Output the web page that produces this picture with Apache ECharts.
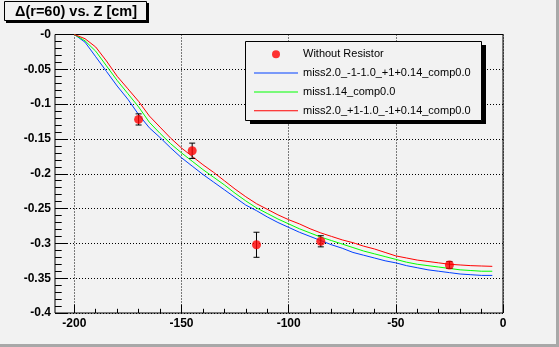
<!DOCTYPE html>
<html>
<head>
<meta charset="utf-8">
<script src="https://cdn.jsdelivr.net/npm/echarts@6/dist/echarts.min.js"></script>
<style>
html,body{margin:0;padding:0;background:#f2f2f2;}
#chart{width:559px;height:347px;}
</style>
</head>
<body>
<div id="chart"></div>
<script>
// ---- data ----
const titleText = 'Δ(r=60) vs. Z [cm]';
const seriesNames = ['Without Resistor', 'miss2.0_-1-1.0_+1+0.14_comp0.0', 'miss1.14_comp0.0', 'miss2.0_+1-1.0_-1+0.14_comp0.0'];

const measZ   = [-170, -145, -115, -85, -25];
const measVal = [-0.122, -0.167, -0.302, -0.297, -0.331];
const measErr = [0.008, 0.011, 0.018, 0.008, 0.005];

const curveZ = [-200,-195,-190,-185,-180,-175,-170,-165,-160,-155,-150,-145,-140,-135,-130,-125,-120,-115,-110,-105,-100,-95,-90,-85,-80,-75,-70,-65,-60,-55,-50,-45,-40,-35,-30,-25,-20,-15,-10,-5];
const blueVals  = [0,-0.011,-0.032,-0.053,-0.074,-0.093,-0.115,-0.134,-0.148,-0.163,-0.177,-0.189,-0.201,-0.212,-0.223,-0.234,-0.245,-0.253,-0.262,-0.270,-0.277,-0.284,-0.290,-0.296,-0.302,-0.307,-0.313,-0.317,-0.321,-0.325,-0.328,-0.332,-0.335,-0.338,-0.340,-0.342,-0.344,-0.345,-0.346,-0.346];
const greenVals = [0,-0.009,-0.024,-0.045,-0.066,-0.085,-0.104,-0.126,-0.142,-0.157,-0.170,-0.182,-0.194,-0.205,-0.216,-0.228,-0.239,-0.249,-0.257,-0.265,-0.272,-0.279,-0.285,-0.291,-0.296,-0.301,-0.306,-0.311,-0.315,-0.319,-0.323,-0.327,-0.330,-0.332,-0.334,-0.336,-0.338,-0.339,-0.340,-0.340];
const redVals   = [0,-0.006,-0.018,-0.038,-0.060,-0.078,-0.096,-0.117,-0.133,-0.149,-0.163,-0.175,-0.187,-0.198,-0.210,-0.222,-0.233,-0.243,-0.251,-0.259,-0.266,-0.272,-0.279,-0.285,-0.290,-0.295,-0.299,-0.304,-0.308,-0.313,-0.318,-0.321,-0.324,-0.326,-0.328,-0.330,-0.331,-0.332,-0.3325,-0.333];

const xMajorTicks = [-200, -150, -100, -50, 0];
const xMinorTicks = [-200,-190,-180,-170,-160,-150,-140,-130,-120,-110,-100,-90,-80,-70,-60,-50,-40,-30,-20,-10,0];

// ---- chart ----
const zip = (xs, ys) => xs.map((x, i) => [x, ys[i]]);
const FONT = 'Liberation Sans';
const TICK = '#000';
const chart = echarts.init(document.getElementById('chart'), null, {renderer: 'canvas'});
const linePath = 'path://M0,0L44,0L44,1L0,1Z';

const option = {
  backgroundColor: '#f2f2f2',
  animation: false,
  grid: {left: 55, top: 34.5, width: 448, height: 278.5, show: true, borderColor: '#000', borderWidth: 1, backgroundColor: 'transparent'},
  xAxis: [{
    type: 'value', min: -209, max: 0, interval: 50,
    axisLine: {show: false, onZero: false},
    axisTick: {show: true, inside: true, length: 8.5, customValues: xMajorTicks, lineStyle: {color: TICK, width: 1}},
    axisLabel: {customValues: xMajorTicks, color: '#000', fontFamily: FONT, fontWeight: 'bold', fontSize: 12, margin: 5,
      formatter: v => String(Math.round(v))},
    splitLine: {show: true, lineStyle: {color: '#000', type: [1, 2], width: 1}}
  }, {
    type: 'value', min: -209, max: 0, position: 'bottom',
    axisLine: {show: false, onZero: false},
    axisTick: {show: true, inside: true, length: 4.2, customValues: xMinorTicks, lineStyle: {color: TICK, width: 1}},
    axisLabel: {show: false},
    splitLine: {show: false}
  }],
  yAxis: {
    type: 'value', min: -0.4, max: 0, interval: 0.05, position: 'left',
    axisLine: {show: false, onZero: false},
    axisTick: {show: true, inside: true, length: 13, lineStyle: {color: TICK, width: 1}},
    minorTick: {show: true, splitNumber: 5, length: 6.7, lineStyle: {color: TICK, width: 1}},
    axisLabel: {color: '#000', fontFamily: FONT, fontWeight: 'bold', fontSize: 12, margin: 4,
      formatter: v => (Math.abs(v) < 1e-9 ? '-0' : String(+v.toFixed(2)))},
    splitLine: {show: true, lineStyle: {color: '#000', type: [1, 2], width: 1}}
  },
  legend: {
    orient: 'vertical', left: 254, top: 48.3, itemWidth: 44, itemHeight: 8, itemGap: 6.8, padding: 0, z: 20,
    textStyle: {fontFamily: FONT, fontSize: 11, color: '#000', lineHeight: 12},
    data: [
      {name: seriesNames[0], icon: 'circle'},
      {name: seriesNames[1], icon: linePath},
      {name: seriesNames[2], icon: linePath},
      {name: seriesNames[3], icon: linePath}
    ]
  },
  graphic: [
    {type: 'rect', shape: {x: 0, y: 344, width: 559, height: 3}, style: {fill: '#a8a8a8'}, silent: true},
    {type: 'rect', shape: {x: 556, y: 0, width: 3, height: 347}, style: {fill: '#a8a8a8'}, silent: true},
    {type: 'rect', shape: {x: 6, y: 3, width: 143, height: 20}, style: {fill: '#000'}, silent: true, z: 10},
    {type: 'rect', shape: {x: 4.5, y: 1.5, width: 142, height: 19}, style: {fill: '#f2f2f2', stroke: '#000', lineWidth: 1}, silent: true, z: 11},
    {type: 'text', x: 76, y: 11.5, style: {text: titleText, fill: '#000', font: 'bold 14.5px "Liberation Sans"', align: 'center', verticalAlign: 'middle'}, silent: true, z: 12},
    {type: 'rect', shape: {x: 250, y: 45, width: 236, height: 79}, style: {fill: '#000'}, silent: true, z: 10},
    {type: 'rect', shape: {x: 245.5, y: 41.5, width: 236, height: 79}, style: {fill: '#f2f2f2', stroke: '#000', lineWidth: 1}, silent: true, z: 11}
  ],
  series: [
    {name: seriesNames[1], type: 'line', xAxisIndex: 0, data: zip(curveZ, blueVals),
      showSymbol: false, symbol: 'none', lineStyle: {color: '#0040ff', width: 1}, itemStyle: {color: '#0040ff'}, z: 3},
    {name: seriesNames[2], type: 'line', xAxisIndex: 0, data: zip(curveZ, greenVals),
      showSymbol: false, symbol: 'none', lineStyle: {color: '#00ff00', width: 1}, itemStyle: {color: '#00ff00'}, z: 3},
    {name: seriesNames[3], type: 'line', xAxisIndex: 0, data: zip(curveZ, redVals),
      showSymbol: false, symbol: 'none', lineStyle: {color: '#ff0000', width: 1}, itemStyle: {color: '#ff0000'}, z: 3},
    {
      name: 'errors', type: 'custom', xAxisIndex: 0, z: 4,
      data: measZ.map((x, i) => [x, measVal[i], measErr[i]]),
      renderItem: function (params, api) {
        const x = api.value(0), y = api.value(1), e = api.value(2);
        const t = api.coord([x, y + e]), b = api.coord([x, y - e]);
        const hw = 3;
        const st = {stroke: '#000', lineWidth: 1};
        return {type: 'group', children: [
          {type: 'line', shape: {x1: t[0], y1: t[1], x2: b[0], y2: b[1]}, style: st},
          {type: 'line', shape: {x1: t[0] - hw, y1: t[1], x2: t[0] + hw, y2: t[1]}, style: st},
          {type: 'line', shape: {x1: b[0] - hw, y1: b[1], x2: b[0] + hw, y2: b[1]}, style: st}
        ]};
      }
    },
    {name: seriesNames[0], type: 'scatter', xAxisIndex: 0, data: zip(measZ, measVal),
      symbol: 'circle', symbolSize: 9, itemStyle: {color: '#ff0000'}, z: 5}
  ]
};
chart.setOption(option);
</script>
</body>
</html>
